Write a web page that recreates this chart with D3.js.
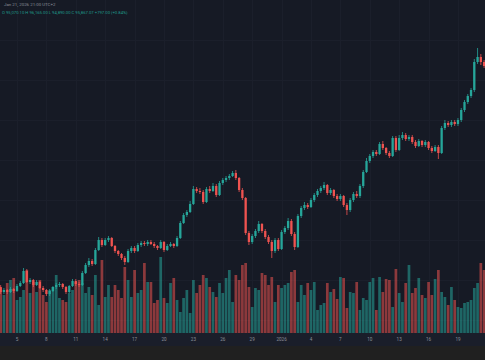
<!DOCTYPE html>
<html><head><meta charset="utf-8">
<script src="https://cdn.jsdelivr.net/npm/d3@7"></script>
<style>html,body{margin:0;padding:0;background:#202020;overflow:hidden}svg{display:block}</style>
</head><body><svg id="c" width="485" height="360"></svg>
<script>
// 8-hour candles, Dec 3 2025 08:00 → Jan 21 2026 16:00
const firstCandle = "2025-12-03 08:00";
const candleHours = 8;

const opens = [
85650,85400,85500,85400,85550,85450,85700,85850,86450,85900,
86000,85750,85900,85600,85500,85300,85450,85650,85750,85800,
85650,85400,85700,85950,85800,85750,86350,86750,86950,86800,
87500,88000,87750,88000,88100,87700,87450,87300,87100,86900,
87450,87600,87450,87750,87850,87800,87900,87800,87700,87600,
87900,87500,87700,87800,87700,88100,88850,89250,89400,89800,
90550,90450,90400,89900,90550,90450,90700,90250,90850,91000,
91100,91200,91350,91100,90500,90100,88350,87900,88200,88450,
88800,88450,88150,87900,87450,88000,87550,88400,88600,88950,
88300,87650,89200,89600,89750,89650,90000,90250,90450,90600,
90750,90350,90500,90200,90050,90200,89750,89500,90000,90300,
90200,90700,91400,91950,92200,92400,92300,92800,92600,92350,
92200,93100,92500,93100,93250,93050,93150,92900,92700,92950,
92750,92900,92600,92450,92650,92350,93600,93850,93750,93900,
93800,94000,94500,94900,95200,95500,96900,97150,96900];
const highs = [
85750,85600,85550,85650,85600,85800,85950,86600,86550,86100,
86050,86000,85950,85700,85550,85550,85700,85850,85900,85850,
85700,85750,86050,86050,85900,86450,86850,87100,87050,87600,
88150,88100,88100,88200,88150,87750,87500,87350,87200,87550,
87700,87700,87850,87950,87950,88000,88000,87900,87750,88000,
87950,87800,87900,87850,88200,88950,89350,89500,89950,90700,
90650,90600,90500,90650,90700,90850,90800,90950,91100,91200,
91300,91450,91500,91150,90600,90150,88450,88300,88550,88950,
88850,88550,88250,88000,88100,88100,88500,88700,89100,89050,
88400,89300,89700,89900,89850,90100,90350,90550,90700,90900,
90800,90600,90550,90300,90300,90250,89850,90100,90400,90450,
90800,91500,92100,92300,92500,92500,92900,92950,92650,92450,
93200,93200,93250,93400,93350,93250,93250,93000,93050,93000,
93000,92950,92700,92750,92750,93700,94000,93950,94000,94000,
94100,94600,95000,95300,95600,97050,97600,97300,97000];
const lows = [
85300,85300,85300,85350,85350,85400,85650,85800,85850,85800,
85650,85700,85550,85400,85200,85200,85400,85550,85650,85550,
85300,85350,85650,85700,85650,85700,86300,86650,86700,86750,
87450,87650,87700,87900,87650,87350,87200,87000,86750,86850,
87350,87350,87400,87650,87700,87700,87750,87600,87500,87550,
87400,87450,87650,87600,87650,88050,88800,89150,89350,89750,
90350,90300,89800,89850,90350,90400,90150,90200,90750,90900,
91000,91150,91000,90400,90000,88250,87750,87800,88100,88350,
88350,88050,87800,87100,87350,87450,87500,88300,88500,88200,
87500,87600,89100,89500,89550,89600,89900,90150,90350,90500,
90250,90250,90100,89950,89950,89650,89250,89400,89900,90100,
90100,90600,91350,91850,92100,92200,92250,92500,92250,92100,
92150,92400,92450,93000,92950,92950,92800,92600,92650,92650,
92650,92500,92350,92400,92050,92300,93500,93650,93650,93700,
93700,93900,94400,94800,95100,95400,96800,96750,96600];
const closes = [
85400,85500,85400,85550,85450,85700,85850,86450,85900,86000,
85750,85900,85600,85500,85300,85450,85650,85750,85800,85650,
85400,85700,85950,85800,85750,86350,86750,86950,86800,87500,
88000,87750,88000,88100,87700,87450,87300,87100,86900,87450,
87600,87450,87750,87850,87800,87900,87800,87700,87600,87900,
87500,87700,87800,87700,88100,88850,89250,89400,89800,90550,
90450,90400,89900,90550,90450,90700,90250,90850,91000,91100,
91200,91350,91100,90500,90100,88350,87900,88200,88450,88800,
88450,88150,87900,87450,88000,87550,88400,88600,88950,88300,
87650,89200,89600,89750,89650,90000,90250,90450,90600,90750,
90350,90500,90200,90050,90200,89750,89500,90000,90300,90200,
90700,91400,91950,92200,92400,92300,92800,92600,92350,92200,
93100,92500,93100,93250,93050,93150,92900,92700,92950,92750,
92900,92600,92450,92650,92350,93600,93850,93750,93900,93800,
94000,94500,94900,95200,95500,96900,97150,96900,96700];
const volumes = [
450,380,500,530,550,330,360,430,630,400,
510,410,530,380,310,430,460,580,350,330,
310,400,430,510,530,500,400,460,380,580,
280,730,360,480,360,480,430,350,660,530,
360,630,400,430,700,510,510,300,330,760,
350,300,500,550,330,210,350,430,200,530,
400,480,580,550,460,410,360,500,400,550,
630,310,580,530,680,700,460,260,450,430,
600,580,480,560,310,480,450,480,500,610,
630,310,480,380,500,430,510,230,280,300,
500,410,440,340,560,550,250,410,400,510,
230,350,330,510,550,230,560,410,540,530,
260,640,400,310,500,680,400,450,550,380,
350,510,380,540,630,410,360,280,460,330,
260,250,300,310,330,450,500,700,630];

const tickDates  = ["2025-12-05","2025-12-08","2025-12-11","2025-12-14","2025-12-17","2025-12-20","2025-12-23","2025-12-26","2025-12-29","2026-01-01","2026-01-04","2026-01-07","2026-01-10","2026-01-13","2026-01-16","2026-01-19"];
const tickLabels = ["5","8","11","14","17","20","23","26","29","2026","4","7","10","13","16","19"];
const priceGrid = [98000,96000,94000,92000,90000,88000,86000,84000];

const headerLine1 = "Jan 21, 2026 21:00 UTC+2";
const headerLine2 = "O 95,070.10  H 96,165.00  L 94,890.00  C 95,867.07  +797.00 (+0.84%)";

const W = 485, plotBottom = 333, axisH = 13;
const parseT = d3.timeParse("%Y-%m-%d %H:%M");
const parseD = d3.timeParse("%Y-%m-%d");
const t0 = parseT(firstCandle);
const times = opens.map((_, i) => d3.timeHour.offset(t0, i * candleHours));
const candles = times.map((t, i) => ({t, o: opens[i], h: highs[i], l: lows[i], c: closes[i], v: volumes[i]}));

const x = d3.scaleTime().domain([times[0], times[times.length - 1]]).range([0.67, 484.1]);
const y = d3.scaleLinear().domain([83350, 100000]).range([plotBottom, 0]);
const yv = d3.scaleLinear().domain([0, 760]).range([plotBottom, 257]);

const up = "#26a69a", down = "#ef5350";
const svg = d3.select("#c");
svg.append("rect").attr("x",0).attr("y",0).attr("width",W).attr("height",plotBottom).attr("fill","#161a25");
svg.append("rect").attr("x",0).attr("y",plotBottom).attr("width",W).attr("height",axisH).attr("fill","#1a1e2a");

// grid
const tickTimes = tickDates.map(parseD);
svg.append("g").selectAll("line").data(tickTimes).join("line")
  .attr("x1", d => Math.round(x(d)) + 0.5).attr("x2", d => Math.round(x(d)) + 0.5)
  .attr("y1", 0).attr("y2", plotBottom).attr("stroke", "#1b1f2b").attr("stroke-width", 1);
svg.append("g").selectAll("line").data(priceGrid).join("line")
  .attr("x1", 0).attr("x2", W)
  .attr("y1", d => Math.round(y(d)) + 0.5).attr("y2", d => Math.round(y(d)) + 0.5)
  .attr("stroke", "#1b1f2b").attr("stroke-width", 1);

// volume
const vw = 2.7;
svg.append("g").selectAll("rect").data(candles).join("rect")
  .attr("x", d => x(d.t) - vw / 2).attr("width", vw)
  .attr("y", d => yv(d.v)).attr("height", d => plotBottom - yv(d.v))
  .attr("fill", d => d.c >= d.o ? up : down).attr("fill-opacity", 0.55);

// candles
const bw = 2.3;
const cg = svg.append("g");
cg.selectAll("line").data(candles).join("line")
  .attr("x1", d => x(d.t)).attr("x2", d => x(d.t))
  .attr("y1", d => y(d.h)).attr("y2", d => y(d.l))
  .attr("stroke", d => d.c >= d.o ? up : down).attr("stroke-width", 0.8);
cg.selectAll("rect").data(candles).join("rect")
  .attr("x", d => x(d.t) - bw / 2).attr("width", bw)
  .attr("y", d => y(Math.max(d.o, d.c)))
  .attr("height", d => Math.max(0.8, Math.abs(y(d.o) - y(d.c))))
  .attr("fill", d => d.c >= d.o ? up : down);

// time axis labels
svg.append("g").selectAll("text").data(tickTimes).join("text")
  .attr("x", d => x(d)).attr("y", plotBottom + 8)
  .attr("text-anchor", "middle")
  .attr("font-family", "Roboto, 'Noto Sans', sans-serif").attr("font-size", 4.6)
  .attr("fill", "#8a8e99")
  .text((d, i) => tickLabels[i]);

// legend header
svg.append("text").attr("x", 4).attr("y", 6)
  .attr("font-family", "Roboto, 'Noto Sans', sans-serif").attr("font-size", 4.4)
  .attr("fill", "#8a8e99").text(headerLine1);
svg.append("text").attr("x", 2).attr("y", 14)
  .attr("font-family", "Roboto, 'Noto Sans', sans-serif").attr("font-size", 4.2)
  .attr("fill", "#1f9a8c").text(headerLine2);
</script></body></html>
